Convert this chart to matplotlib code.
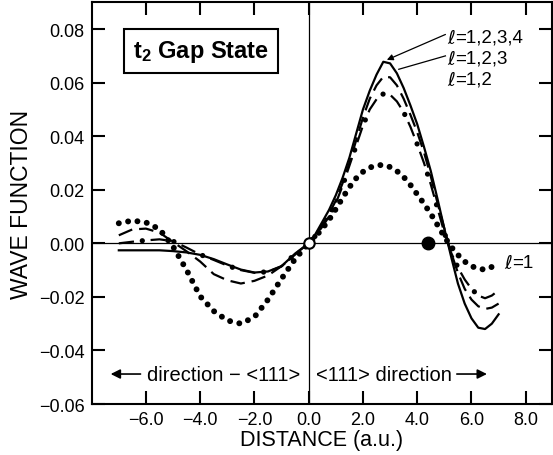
import numpy as np
import matplotlib
matplotlib.use("Agg")
import matplotlib.pyplot as plt

plt.rcParams['font.family'] = ['Liberation Sans', 'DejaVu Sans']
plt.rcParams['mathtext.fontset'] = 'custom'
plt.rcParams['mathtext.rm'] = 'Liberation Sans'
plt.rcParams['mathtext.bf'] = 'Liberation Sans:bold'
plt.rcParams['lines.scale_dashes'] = False

# ------------------------------------------------------------------
# donnees
# ------------------------------------------------------------------
distance = [-7.0, -6.5, -6.0, -5.5, -5.0, -4.5, -4.0, -3.5, -3.0, -2.5, -2.0, -1.5, -1.0, -0.5,
            0.0, 0.25, 0.5, 0.75, 1.0, 1.25, 1.5, 1.75, 2.0, 2.25, 2.5, 2.75, 3.0, 3.25, 3.5,
            3.75, 4.0, 4.25, 4.5, 4.75, 5.0, 5.25, 5.5, 5.75, 6.0, 6.25, 6.5, 6.75, 7.0]

psi_l1234 = [-0.0026, -0.0026, -0.0026, -0.0026, -0.0029, -0.0034, -0.0043, -0.0059, -0.0079,
             -0.0098, -0.0109, -0.0105, -0.0085, -0.0038,
             0.0, 0.0035, 0.0080, 0.0125, 0.0180, 0.0245, 0.0320, 0.0410, 0.0500, 0.0570,
             0.0630, 0.0678, 0.0672, 0.0635, 0.0580, 0.0515, 0.0445, 0.0360, 0.0270, 0.0165,
             0.0055, -0.0050, -0.0150, -0.0225, -0.0280, -0.0315, -0.0320, -0.0300, -0.0265]

psi_l123 = [0.0030, 0.0052, 0.0055, 0.0040, 0.0005, -0.0030, -0.0068, -0.0115, -0.0138,
            -0.0150, -0.0140, -0.0120, -0.0085, -0.0042,
            0.0, 0.0030, 0.0068, 0.0110, 0.0160, 0.0225, 0.0300, 0.0385, 0.0470, 0.0540,
            0.0590, 0.0622, 0.0620, 0.0590, 0.0540, 0.0480, 0.0415, 0.0340, 0.0250, 0.0150,
            0.0055, -0.0035, -0.0110, -0.0170, -0.0210, -0.0235, -0.0245, -0.0240, -0.0225]

psi_l12 = [0.0, 0.0006, 0.0011, 0.0015, 0.0008, -0.0016, -0.0042, -0.0062, -0.0083,
           -0.0100, -0.0110, -0.0106, -0.0086, -0.0040,
           0.0, 0.0028, 0.0062, 0.0100, 0.0150, 0.0215, 0.0290, 0.0365, 0.0440, 0.0500,
           0.0538, 0.0558, 0.0555, 0.0530, 0.0490, 0.0435, 0.0370, 0.0300, 0.0220, 0.0130,
           0.0040, -0.0035, -0.0090, -0.0135, -0.0170, -0.0195, -0.0205, -0.0195, -0.0175]

psi_l1 = [0.0075, 0.0085, 0.0078, 0.0053, -0.0012, -0.0100, -0.0198, -0.0253, -0.0288,
          -0.0300, -0.0275, -0.0210, -0.0132, -0.0058,
          0.0, 0.0025, 0.0055, 0.0088, 0.0128, 0.0170, 0.0210, 0.0243, 0.0267, 0.0283,
          0.0291, 0.0293, 0.0285, 0.0270, 0.0248, 0.0218, 0.0183, 0.0148, 0.0110, 0.0068,
          0.0025, -0.0013, -0.0043, -0.0068, -0.0085, -0.0095, -0.0098, -0.0088, -0.0075]

site_ouvert = (0.0, 0.0)
site_plein = (4.4, 0.0)

etiquettes = ["=1,2,3,4", "=1,2,3", "=1,2"]
etiquettes_y = [0.0770, 0.0692, 0.0612]

# ------------------------------------------------------------------
# figure
# ------------------------------------------------------------------
fig = plt.figure(figsize=(5.53, 4.56), dpi=100)
ax = fig.add_axes([0.1658, 0.1118, 0.8315, 0.8809])

ax.axhline(0, color='k', lw=0.9, zorder=1)
ax.axvline(0, color='k', lw=0.9, zorder=1)

ax.plot(distance, psi_l1234, color='k', lw=1.6, zorder=3)
ax.plot(distance, psi_l123, color='k', lw=1.6, linestyle=(0, (10.5, 5)), zorder=3)
ax.plot(distance, psi_l12, color='k', lw=1.6, linestyle=(0, (11, 12)), zorder=3)
ax.plot(distance, psi_l12, color='k', lw=3.8, linestyle=(6, (0.01, 22.99)),
        dash_capstyle='round', zorder=3)
ax.plot(distance, psi_l1, color='k', lw=4.3, linestyle=(0, (0.01, 6.8)),
        dash_capstyle='round', zorder=3)

ax.plot(*site_ouvert, marker='o', ms=7.5, mfc='white', mec='k', mew=1.5, zorder=5)
ax.plot(*site_plein, marker='o', ms=9, mfc='k', mec='k', zorder=5)

ax.set_xlim(-8.0, 8.95)
ax.set_ylim(-0.06, 0.09)
ax.set_xticks([-6, -4, -2, 0, 2, 4, 6, 8])
ax.set_xticklabels(['\u22126.0', '\u22124.0', '\u22122.0', '0.0', '2.0', '4.0', '6.0', '8.0'])
ax.set_yticks([-0.06, -0.04, -0.02, 0.0, 0.02, 0.04, 0.06, 0.08])
ax.set_yticklabels(['\u22120.06', '\u22120.04', '\u22120.02', '0.00', '0.02', '0.04', '0.06', '0.08'])
ax.tick_params(direction='in', length=9.5, width=1.5, labelsize=13, pad=5,
               top=True, right=True)
for sp in ax.spines.values():
    sp.set_linewidth(1.5)

ax.set_xlabel("DISTANCE (a.u.)", fontsize=15.5, labelpad=1)
ax.set_ylabel("WAVE FUNCTION", fontsize=16.5, labelpad=4)

# boite titre
ax.text(-3.97, 0.0717, r"$\mathbf{t_2}$ Gap State", fontsize=17, fontweight='bold',
        ha='center', va='center',
        bbox=dict(boxstyle='square,pad=0.38', fc='white', ec='k', lw=1.5), zorder=6)

# etiquettes des courbes (ell en DejaVu, boucle)
def etiquette(x, y, suite):
    t = ax.text(x, y, "\u2113", fontsize=13.5, family='DejaVu Sans', ha='left', va='center')
    ax.annotate(suite, xy=(1.0, 0.5), xycoords=t, fontsize=13.5, ha='left', va='center')

for s, y in zip(etiquettes, etiquettes_y):
    etiquette(5.1, y, s)
etiquette(7.2, -0.0071, "=1")

ax.annotate("", xy=(2.88, 0.0685), xytext=(5.04, 0.0780),
            arrowprops=dict(arrowstyle='-|>', lw=0.9, color='k', mutation_scale=9,
                            shrinkA=0, shrinkB=0))
ax.plot([5.04, 3.32], [0.0700, 0.0650], color='k', lw=0.9)

# directions
ax.text(-0.3, -0.0488, "direction \u2212 <111>", fontsize=14.5, ha='right', va='center')
ax.text(0.27, -0.0488, "<111> direction", fontsize=14.5, ha='left', va='center')
ax.annotate("", xy=(-7.3, -0.0488), xytext=(-6.2, -0.0488),
            arrowprops=dict(arrowstyle='-|>', lw=1.2, color='k', mutation_scale=14,
                            shrinkA=0, shrinkB=0))
ax.annotate("", xy=(6.57, -0.0488), xytext=(5.46, -0.0488),
            arrowprops=dict(arrowstyle='-|>', lw=1.2, color='k', mutation_scale=14,
                            shrinkA=0, shrinkB=0))

fig.savefig("out.png", dpi=100)
plt.close(fig)
